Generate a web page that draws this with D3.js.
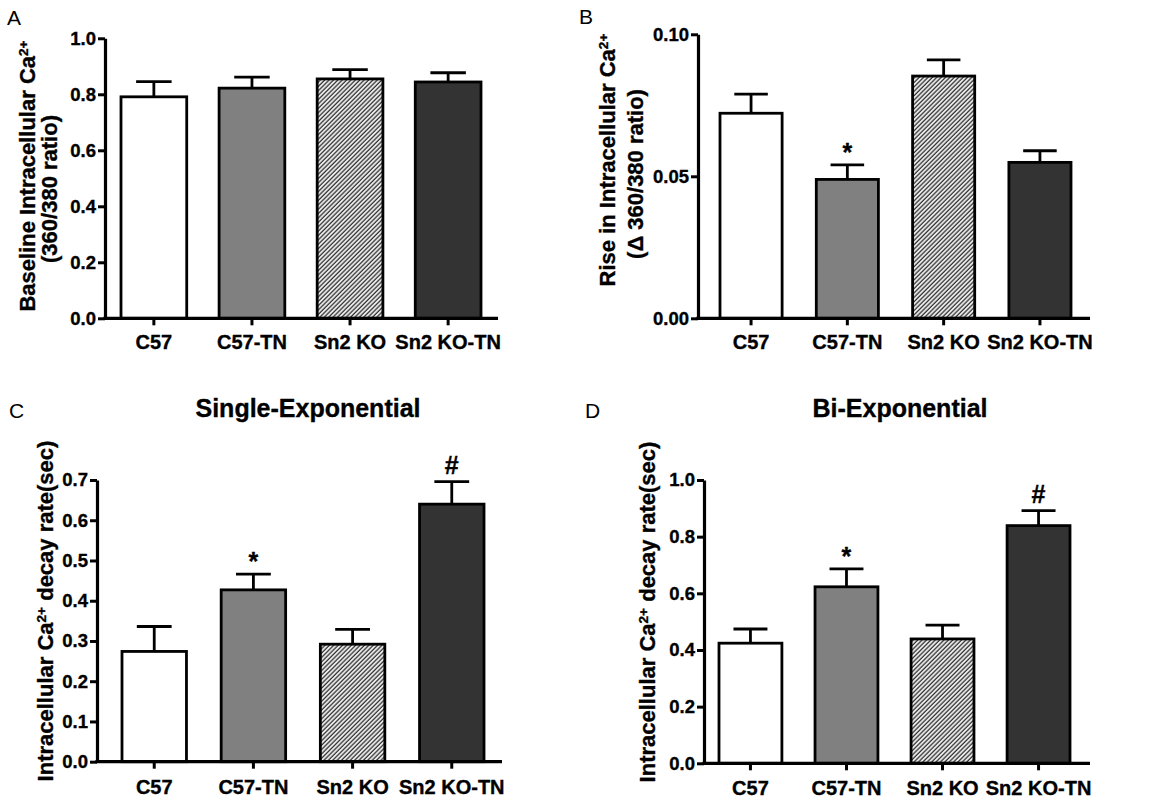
<!DOCTYPE html>
<html>
<head>
<meta charset="utf-8">
<script src="https://cdn.jsdelivr.net/npm/d3@7"></script>
<style>
  html, body { margin: 0; padding: 0; background: #fff; }
  svg { display: block; font-family: "Liberation Sans", Arial, sans-serif; }
  .heavy { stroke: #000; stroke-width: 0.35px; paint-order: stroke; }
</style>
</head>
<body>
<svg id="chart" width="1151" height="801"></svg>
<script>
// ---- data ----
const categories = ["C57", "C57-TN", "Sn2 KO", "Sn2 KO-TN"];
const fills = ["#ffffff", "#808080", "url(#hatch)", "#333333"];

const baselineMean = [0.791, 0.822, 0.855, 0.844];
const baselineErr  = [0.054, 0.039, 0.033, 0.033];
const baselineTicks = [0, 0.2, 0.4, 0.6, 0.8, 1.0];

const riseMean = [0.0722, 0.0489, 0.0853, 0.0549];
const riseErr  = [0.0067, 0.0051, 0.0057, 0.0041];
const riseTicks = [0, 0.05, 0.10];
const riseMarks = ["", "*", "", ""];

const singleMean = [0.274, 0.427, 0.292, 0.640];
const singleErr  = [0.062, 0.039, 0.037, 0.056];
const singleTicks = [0, 0.1, 0.2, 0.3, 0.4, 0.5, 0.6, 0.7];
const singleMarks = ["", "*", "", "#"];

const biMean = [0.424, 0.623, 0.439, 0.839];
const biErr  = [0.050, 0.063, 0.049, 0.053];
const biTicks = [0, 0.2, 0.4, 0.6, 0.8, 1.0];
const biMarks = ["", "*", "", "#"];

// ---- drawing ----
const svg = d3.select("#chart");
const defs = svg.append("defs");
const HS = 3.1;
const pat = defs.append("pattern")
  .attr("id", "hatch").attr("patternUnits", "userSpaceOnUse")
  .attr("width", HS).attr("height", HS)
  .attr("patternTransform", "rotate(45)");
pat.append("rect").attr("width", HS).attr("height", HS).attr("fill", "#f4f4f4");
pat.append("line").attr("x1", 1).attr("y1", 0).attr("x2", 1).attr("y2", HS)
  .attr("stroke", "#333").attr("stroke-width", 1.35);

function superTitle(g, parts, opts) {
  const t = g.append("text")
    .attr("class", "heavy")
    .attr("transform", `translate(${opts.x},${opts.y}) rotate(-90)`)
    .attr("text-anchor", "middle")
    .attr("font-size", opts.size).attr("font-weight", "bold").attr("fill", "#000");
  parts.forEach(([s, sup]) => {
    const ts = t.append("tspan").text(s);
    if (sup) ts.attr("baseline-shift", "super").attr("font-size", opts.size * 0.62);
  });
  return t;
}

function panel(cfg) {
  const g = svg.append("g");
  const x = d3.scaleBand().domain(categories).range(cfg.bandRange).paddingInner(cfg.padInner);
  const y = d3.scaleLinear().domain(cfg.domain).range([cfg.y0, cfg.yTop]);
  const bw = x.bandwidth();
  const SW = 2.8;

  // bars
  g.selectAll("rect.bar").data(categories).join("rect")
    .attr("class", "bar")
    .attr("x", d => x(d))
    .attr("y", (d, i) => y(cfg.mean[i]))
    .attr("width", bw)
    .attr("height", (d, i) => y(0) - y(cfg.mean[i]))
    .attr("fill", (d, i) => fills[i])
    .attr("stroke", "#000").attr("stroke-width", SW);

  // error bars (upper only)
  const eb = g.selectAll("g.err").data(categories).join("g").attr("class", "err");
  eb.append("line")
    .attr("x1", d => x(d) + bw / 2).attr("x2", d => x(d) + bw / 2)
    .attr("y1", (d, i) => y(cfg.mean[i]))
    .attr("y2", (d, i) => y(cfg.mean[i] + cfg.err[i]))
    .attr("stroke", "#000").attr("stroke-width", SW);
  eb.append("line")
    .attr("x1", d => x(d) + bw / 2 - bw * 0.27).attr("x2", d => x(d) + bw / 2 + bw * 0.27)
    .attr("y1", (d, i) => y(cfg.mean[i] + cfg.err[i]))
    .attr("y2", (d, i) => y(cfg.mean[i] + cfg.err[i]))
    .attr("stroke", "#000").attr("stroke-width", SW);

  // significance marks
  if (cfg.marks) {
    g.selectAll("text.mark").data(categories).join("text")
      .attr("class", "mark heavy")
      .attr("x", d => x(d) + bw / 2)
      .attr("y", (d, i) => y(cfg.mean[i] + cfg.err[i]) - (cfg.marks[i] === "*" ? 4 : 8))
      .attr("text-anchor", "middle")
      .attr("font-size", 25).attr("font-weight", "bold")
      .text((d, i) => cfg.marks[i]);
  }

  // y axis
  const ya = g.append("g").attr("transform", `translate(${cfg.axisX},0)`)
    .call(d3.axisLeft(y).tickValues(cfg.ticks).tickFormat(d3.format(cfg.fmt))
      .tickSize(7).tickSizeOuter(0).tickPadding(2));
  ya.select(".domain").attr("stroke-width", 3.2);
  ya.selectAll(".tick line").attr("stroke-width", 3);
  ya.selectAll(".tick text").attr("class", "heavy").attr("font-size", 18.5).attr("font-weight", "bold")
    .attr("font-family", "Liberation Sans, Arial, sans-serif").attr("fill", "#000");

  // x axis
  const xa = g.append("g").attr("transform", `translate(0,${cfg.y0})`)
    .call(d3.axisBottom(x).tickSize(7).tickSizeOuter(0).tickPadding(cfg.xPad));
  xa.select(".domain").remove();
  xa.selectAll(".tick line").attr("stroke-width", 3);
  xa.selectAll(".tick text").attr("class", "heavy").attr("font-size", 20).attr("font-weight", "bold")
    .attr("font-family", "Liberation Sans, Arial, sans-serif").attr("fill", "#000");
  g.append("line").attr("x1", cfg.axisX - 1.6).attr("x2", cfg.axisEnd)
    .attr("y1", cfg.y0).attr("y2", cfg.y0)
    .attr("stroke", "#000").attr("stroke-width", 3.2);

  // axis titles
  cfg.yTitles.forEach(tt => superTitle(g, tt.parts, tt));

  // chart title
  if (cfg.title) {
    g.append("text").attr("class", "heavy").attr("x", cfg.title.x).attr("y", cfg.title.y)
      .attr("text-anchor", "middle").attr("font-size", 25).attr("font-weight", "bold")
      .text(cfg.title.text);
  }
  // panel letter
  g.append("text").attr("x", cfg.letter.x).attr("y", cfg.letter.y)
    .attr("font-size", 21).attr("fill", "#000").text(cfg.letter.text);
}

panel({
  mean: baselineMean, err: baselineErr, ticks: baselineTicks, fmt: ".1f",
  domain: [0, 1], y0: 318.3, yTop: 38.3, axisX: 105, axisEnd: 498,
  bandRange: [121, 481], padInner: 0.33, xPad: 10,
  yTitles: [
    {parts: [["Baseline Intracellular Ca", false], ["2+", true]], x: 35, y: 176, size: 22},
    {parts: [["(360/380 ratio)", false]], x: 57, y: 189, size: 22}
  ],
  letter: {text: "A", x: 7, y: 25}
});

panel({
  mean: riseMean, err: riseErr, ticks: riseTicks, fmt: ".2f", marks: riseMarks,
  domain: [0, 0.10], y0: 318.3, yTop: 34.3, axisX: 698, axisEnd: 1090,
  bandRange: [720, 1071], padInner: 0.355, xPad: 10,
  yTitles: [
    {parts: [["Rise in Intracellular Ca", false], ["2+", true]], x: 615, y: 160, size: 22},
    {parts: [["(\u0394 360/380 ratio)", false]], x: 643, y: 174, size: 22}
  ],
  letter: {text: "B", x: 579, y: 24}
});

panel({
  mean: singleMean, err: singleErr, ticks: singleTicks, fmt: ".1f", marks: singleMarks,
  domain: [0, 0.7], y0: 761.7, yTop: 480, axisX: 97, axisEnd: 502,
  bandRange: [122, 484], padInner: 0.35, xPad: 11,
  yTitles: [
    {parts: [["Intracellular Ca", false], ["2+", true], [" decay rate(sec)", false]], x: 53, y: 611, size: 22}
  ],
  title: {text: "Single-Exponential", x: 308, y: 417},
  letter: {text: "C", x: 9, y: 418}
});

panel({
  mean: biMean, err: biErr, ticks: biTicks, fmt: ".1f", marks: biMarks,
  domain: [0, 1.0], y0: 763.3, yTop: 480, axisX: 704, axisEnd: 1090,
  bandRange: [719, 1070], padInner: 0.345, xPad: 11,
  yTitles: [
    {parts: [["Intracellular Ca", false], ["2+", true], [" decay rate(sec)", false]], x: 655, y: 612, size: 22}
  ],
  title: {text: "Bi-Exponential", x: 900, y: 417},
  letter: {text: "D", x: 585, y: 418}
});
</script>
</body>
</html>
